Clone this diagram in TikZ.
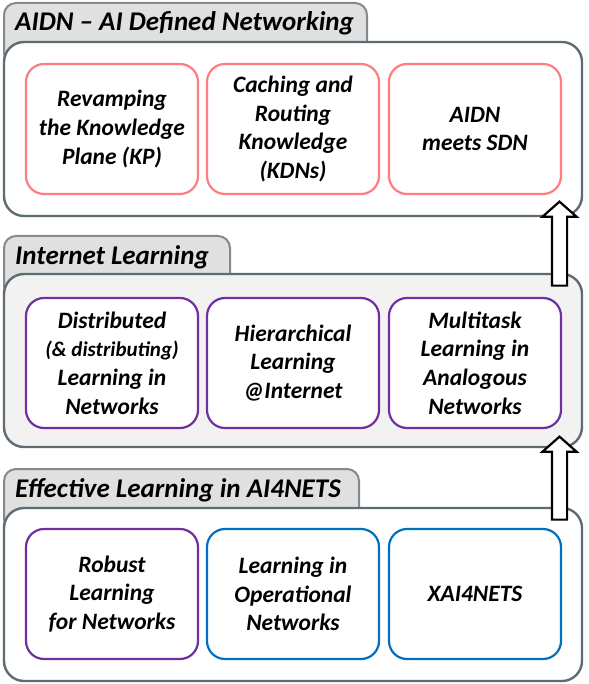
\documentclass[tikz,border=0pt]{standalone}
\usepackage{fontspec}
\setmainfont{Carlito}
\usepackage{tikz}
\usetikzlibrary{shapes.arrows, positioning}

\definecolor{framegray}{HTML}{5F6B73}
\definecolor{tabgray}{HTML}{E0E0E0}
\definecolor{tabline}{HTML}{808A90}
\definecolor{paneltint}{HTML}{F2F2F2}
\definecolor{salmon}{HTML}{FF7C80}
\definecolor{violet}{HTML}{7030A0}
\definecolor{azure}{HTML}{0070C0}

\begin{document}
\begin{tikzpicture}[
            x=1pt, y=-1pt,
            every node/.style={font=\bfseries\itshape\fontsize{23.5}{28.7}\selectfont, align=center},
            tabbox/.style={draw=tabline, fill=tabgray, line width=2pt, rounded corners=12pt, minimum height=62pt, anchor=north west},
            tabtext/.style={font=\bfseries\itshape\fontsize{27}{30}\selectfont, anchor=west, inner sep=0pt},
            groupbox/.style={draw=framegray, fill=white, line width=2.4pt, rounded corners=20pt, minimum width=578pt},
            cell/.style={draw, fill=white, line width=2.2pt, rounded corners=18pt, minimum width=172pt, minimum height=130pt},
            uparrow/.style={draw=black, fill=white, line width=2.2pt, single arrow, shape border rotate=90,
                single arrow head extend=9.5pt, single arrow tip angle=97, inner sep=6.5pt},
        ]
        \useasboundingbox (0,0) rectangle (588,684);

        % AIDN layer
        \node[tabbox, minimum width=363pt] (tab1) at (3,2) {};
        \node[groupbox, minimum height=174pt] (aidn) at (293,129) {};
        \node[tabtext] (title1) at (15,23) {AIDN -- AI Defined Networking};
        \node[cell, draw=salmon] (kp) at (112,129) {Revamping\\the Knowledge\\Plane (KP)};
        \node[cell, draw=salmon] (kdn) at (293,129) {Caching and\\Routing\\Knowledge\\(KDNs)};
        \node[cell, draw=salmon] (sdn) at (475,129) {AIDN\\meets SDN};

        % Internet learning layer
        \node[tabbox, minimum width=226pt] (tab2) at (3,235) {};
        \node[groupbox, fill=paneltint, minimum height=173pt] (inet) at (293,360.5) {};
        \node[tabtext] (title2) at (15,257) {Internet Learning};
        \node[cell, draw=violet] (dist) at (112,363) {Distributed\\{\fontsize{21}{24}\selectfont(\& distributing)}\\Learning in\\Networks};
        \node[cell, draw=violet] (hier) at (293,363) {Hierarchical\\Learning\\@Internet};
        \node[cell, draw=violet] (multi) at (475,363) {Multitask\\Learning in\\Analogous\\Networks};

        % effective learning layer
        \node[tabbox, minimum width=355pt] (tab3) at (3,468) {};
        \node[groupbox, minimum height=173pt] (eff) at (293,594.5) {};
        \node[tabtext] (title3) at (15,490) {Effective Learning in AI4NETS};
        \node[cell, draw=violet] (robust) at (112,594) {Robust\\Learning\\for Networks};
        \node[cell, draw=azure] (oper) at (293,594) {Learning in\\Operational\\Networks};
        \node[cell, draw=azure] (xai) at (475,594) {XAI4NETS};

        % block arrows between layers
        \node[uparrow, minimum height=84pt] (up1) at (559.5,247) {};
        \node[uparrow, minimum height=83pt] (up2) at (559.5,481.5) {};
\end{tikzpicture}
\end{document}
